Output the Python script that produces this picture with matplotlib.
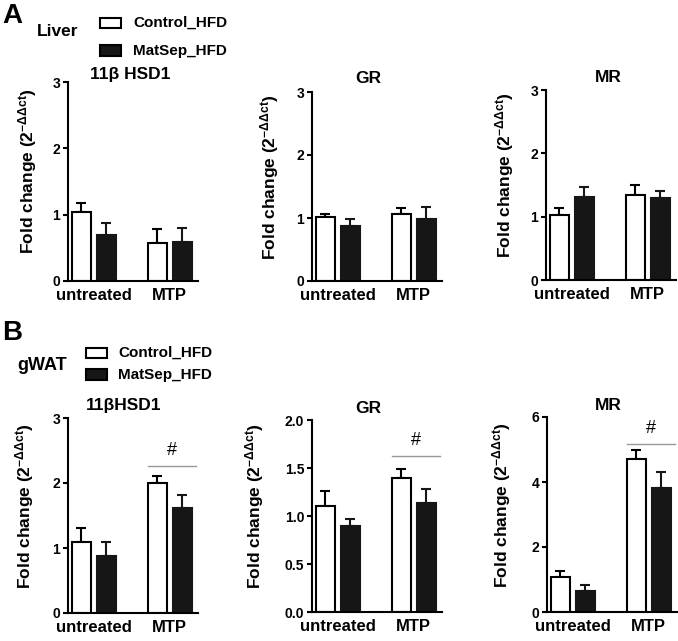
import matplotlib
matplotlib.use("Agg")
import matplotlib.pyplot as plt
from matplotlib.patches import Rectangle
import numpy as np

plt.rcParams.update({
    'font.family': ['Liberation Sans', 'DejaVu Sans'],
    'font.weight': 'bold',
    'mathtext.fontset': 'custom',
    'mathtext.rm': 'Liberation Sans',
    'mathtext.it': 'Liberation Sans:italic',
    'mathtext.bf': 'Liberation Sans:bold',
    'axes.linewidth': 1.5,
})

# ── Data ──────────────────────────────────────────────────────────
GROUPS = ["untreated", "MTP"]

LIV_11B_CTRL, LIV_11B_CTRL_ERR = [1.04, 0.57], [0.14, 0.21]
LIV_11B_MS,   LIV_11B_MS_ERR   = [0.70, 0.59], [0.18, 0.21]
LIV_GR_CTRL,  LIV_GR_CTRL_ERR  = [1.02, 1.07], [0.05, 0.09]
LIV_GR_MS,    LIV_GR_MS_ERR    = [0.87, 0.98], [0.11, 0.20]
LIV_MR_CTRL,  LIV_MR_CTRL_ERR  = [1.02, 1.34], [0.11, 0.16]
LIV_MR_MS,    LIV_MR_MS_ERR    = [1.31, 1.30], [0.16, 0.11]

WAT_11B_CTRL, WAT_11B_CTRL_ERR = [1.10, 2.00], [0.21, 0.11]
WAT_11B_MS,   WAT_11B_MS_ERR   = [0.87, 1.62], [0.22, 0.19]
WAT_GR_CTRL,  WAT_GR_CTRL_ERR  = [1.10, 1.40], [0.16, 0.09]
WAT_GR_MS,    WAT_GR_MS_ERR    = [0.90, 1.14], [0.07, 0.14]
WAT_MR_CTRL,  WAT_MR_CTRL_ERR  = [1.09, 4.72], [0.16, 0.26]
WAT_MR_MS,    WAT_MR_MS_ERR    = [0.65, 3.82], [0.17, 0.48]

# significance bar heights (gWAT, MTP group)
SIG_Y = [2.26, 1.625, 5.17]

W, H = 678, 641
def fx(x): return x / W
def fy(y): return 1 - y / H

# panel layout in pixels: left, top, bottom, ymax, yticks, title, title_x, title_pad, ylabel_x
PANELS = [
    (68, 82, 281, 3, [0, 1, 2, 3], "11β HSD1", 0.48, 1.5, -0.22,
     LIV_11B_CTRL, LIV_11B_CTRL_ERR, LIV_11B_MS, LIV_11B_MS_ERR, None),
    (312, 92, 281, 3, [0, 1, 2, 3], "GR", 0.43, 6.5, -0.24,
     LIV_GR_CTRL, LIV_GR_CTRL_ERR, LIV_GR_MS, LIV_GR_MS_ERR, None),
    (546, 90, 280, 3, [0, 1, 2, 3], "MR", 0.48, 6.0, -0.23,
     LIV_MR_CTRL, LIV_MR_CTRL_ERR, LIV_MR_MS, LIV_MR_MS_ERR, None),
    (68, 418, 613, 3, [0, 1, 2, 3], "11βHSD1", 0.43, 6.0, -0.25,
     WAT_11B_CTRL, WAT_11B_CTRL_ERR, WAT_11B_MS, WAT_11B_MS_ERR, SIG_Y[0]),
    (312, 420, 612, 2, [0, 0.5, 1.0, 1.5, 2.0], "GR", 0.43, 5.0, -0.35,
     WAT_GR_CTRL, WAT_GR_CTRL_ERR, WAT_GR_MS, WAT_GR_MS_ERR, SIG_Y[1]),
    (547, 417, 612, 6, [0, 2, 4, 6], "MR", 0.47, 5.0, -0.26,
     WAT_MR_CTRL, WAT_MR_CTRL_ERR, WAT_MR_MS, WAT_MR_MS_ERR, SIG_Y[2]),
]

AX_W = 130
OFF = 0.165
BW = 0.25
YLABEL = r"Fold change (2$^{\mathregular{-\Delta\Delta ct}}$)"

fig = plt.figure(figsize=(W / 100, H / 100), dpi=100)

x = np.arange(len(GROUPS))
for (left, top, bottom, ymax, yticks, title, tx, tpad, ylx,
     ctrl, ctrl_err, ms, ms_err, sig) in PANELS:
    ax = fig.add_axes([fx(left), fy(bottom), AX_W / W, (bottom - top) / H])
    ax.bar(x - OFF, ctrl, BW, color="white", edgecolor="black",
           linewidth=1.5, zorder=2)
    ax.bar(x + OFF, ms, BW, color="#161616", edgecolor="#161616",
           linewidth=1.5, zorder=2)
    ax.errorbar(x - OFF, ctrl, yerr=[np.zeros(2), ctrl_err], fmt="none",
                ecolor="black", elinewidth=1.5, capsize=3.6, capthick=1.5,
                zorder=1)
    ax.errorbar(x + OFF, ms, yerr=[np.zeros(2), ms_err], fmt="none",
                ecolor="#161616", elinewidth=1.5, capsize=3.6, capthick=1.5,
                zorder=1)

    ax.set_xlim(-0.34, 1.37)
    ax.set_ylim(0, ymax)
    ax.set_yticks(yticks)
    if ymax == 2:
        ax.set_yticklabels([f"{t:.1f}" for t in yticks])
    ax.set_xticks(x)
    ax.set_xticklabels(GROUPS, fontsize=12, fontweight="bold")
    ax.tick_params(axis="x", length=0, pad=5)
    ax.tick_params(axis="y", length=3.5, width=1.5, labelsize=10, pad=2)
    for s in ("top", "right"):
        ax.spines[s].set_visible(False)

    ax.set_title(title, fontsize=12.5, fontweight="bold", x=tx, pad=tpad)
    ax.set_ylabel(YLABEL, fontsize=12.5, fontweight="bold")
    ax.yaxis.set_label_coords(ylx, 0.55)

    if sig is not None:
        ax.plot([1 - OFF - BW / 2, 1.34], [sig, sig], color="#999999",
                linewidth=1.0, clip_on=False)
        ax.annotate("#", xy=((1 - OFF - BW / 2 + 1.34) / 2, sig),
                    xytext=(0, 5), textcoords="offset points",
                    ha="center", va="bottom", fontsize=13,
                    fontweight="normal", annotation_clip=False)

# ── Panel letters, tissue labels and legends ──────────────────────
fig.text(fx(2), fy(16), "A", fontsize=20, fontweight="bold", va="center")
fig.text(fx(37), fy(32), "Liver", fontsize=12.5, fontweight="bold", va="center")
fig.text(fx(2), fy(333), "B", fontsize=20, fontweight="bold", va="center")
fig.text(fx(17), fy(365), "gWAT", fontsize=13, fontweight="bold", va="center")

LEGENDS = [
    (100, 133, [(18, 28, 23), (45, 56, 51)]),
    (86, 118, [(348, 358, 353), (369, 380, 375)]),
]
for bx, tx0, rows in LEGENDS:
    for (y0, y1, yc), fc, lab in zip(rows, ["white", "#161616"],
                                     ["Control_HFD", "MatSep_HFD"]):
        fig.add_artist(Rectangle((fx(bx), fy(y1)), 21 / W, (y1 - y0) / H,
                                 facecolor=fc, edgecolor="black",
                                 linewidth=1.5, transform=fig.transFigure))
        fig.text(fx(tx0), fy(yc), lab, fontsize=11, fontweight="bold",
                 va="center")

fig.savefig("out.png", dpi=100)
